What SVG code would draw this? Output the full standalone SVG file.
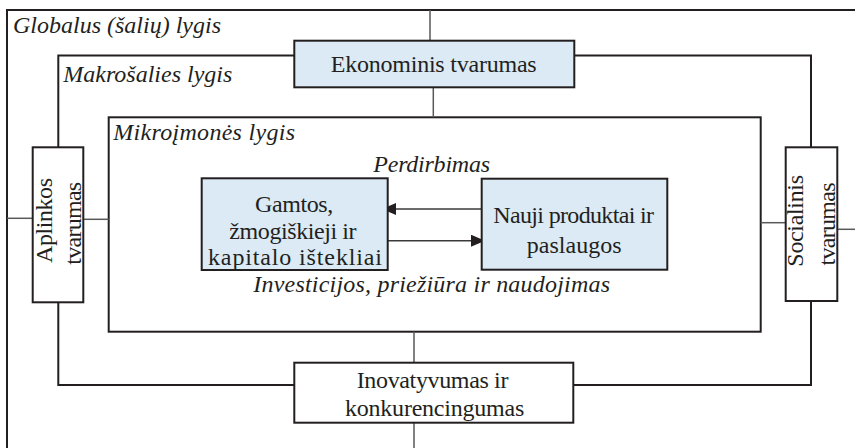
<svg xmlns="http://www.w3.org/2000/svg" width="855" height="448" viewBox="0 0 855 448">
<style>
.frame{fill:none;stroke:#231f20;stroke-width:2}
.box{stroke:#231f20;stroke-width:2}
.blue{fill:#dbeaf5}
.white{fill:#ffffff}
.conn{fill:none;stroke:#58595b;stroke-width:1.5}
.arrow{fill:none;stroke:#3a3a3a;stroke-width:1.6}
.t{font-family:'Liberation Serif','Times New Roman',serif;font-size:24px;fill:#231f20}
.it{font-style:italic}
</style>
<defs>
<marker id="ah" viewBox="0 0 14 12" refX="13" refY="6" markerWidth="14" markerHeight="12" markerUnits="userSpaceOnUse" orient="auto">
<path d="M0,0 L14,6 L0,12 Z" fill="#231f20"/>
</marker>
</defs>
<rect width="855" height="448" fill="#ffffff"/>

<g id="globalus">
<path class="frame" d="M7,460 V10 H860"/>
<text class="t it" x="13" y="33" textLength="208" lengthAdjust="spacing">Globalus (šalių) lygis</text>
</g>

<g id="makro">
<rect class="frame" x="58.3" y="55.5" width="752.7" height="329.5"/>
<text class="t it" x="63.3" y="81.7" textLength="169" lengthAdjust="spacing">Makrošalies lygis</text>
</g>

<g id="mikro">
<rect class="frame" x="108.7" y="117.3" width="652" height="214.4"/>
<text class="t it" x="113.3" y="140" textLength="181.7" lengthAdjust="spacing">Mikroįmonės lygis</text>
<text class="t it" x="373.3" y="171.7" textLength="116.7" lengthAdjust="spacing">Perdirbimas</text>
<text class="t it" x="253.3" y="291.7" textLength="356.7" lengthAdjust="spacing">Investicijos, priežiūra ir naudojimas</text>
</g>

<g id="connectors">
<line class="conn" x1="430" y1="10" x2="430" y2="40.7"/>
<line class="conn" x1="433.3" y1="87.3" x2="433.3" y2="117.3"/>
<line class="conn" x1="414" y1="331.7" x2="414" y2="362.7"/>
<line class="conn" x1="414" y1="422.7" x2="414" y2="448"/>
<line class="conn" x1="7" y1="218.3" x2="32.7" y2="218.3"/>
<line class="conn" x1="83.3" y1="219.3" x2="108.7" y2="219.3"/>
<line class="conn" x1="760.7" y1="222.7" x2="785.7" y2="222.7"/>
<line class="conn" x1="837.3" y1="229.3" x2="855" y2="229.3"/>
<line class="arrow" x1="481.7" y1="209" x2="383" y2="209" marker-end="url(#ah)"/>
<line class="arrow" x1="387.7" y1="240.7" x2="484" y2="240.7" marker-end="url(#ah)"/>
</g>

<g id="ekonominis">
<rect class="box blue" x="294.3" y="40.7" width="280" height="46.6"/>
<text class="t" x="330.7" y="72" textLength="206" lengthAdjust="spacing">Ekonominis tvarumas</text>
</g>

<g id="aplinkos">
<rect class="box white" x="32.7" y="147.3" width="50.6" height="155"/>
<text class="t" transform="translate(52,220.5) rotate(-90)" text-anchor="middle" textLength="85" lengthAdjust="spacing">Aplinkos</text>
<text class="t" transform="translate(80.5,223.3) rotate(-90)" text-anchor="middle" textLength="83" lengthAdjust="spacing">tvarumas</text>
</g>

<g id="socialinis">
<rect class="box white" x="785.7" y="147.3" width="51.6" height="153.7"/>
<text class="t" transform="translate(803.3,220.8) rotate(-90)" text-anchor="middle" textLength="91.7" lengthAdjust="spacing">Socialinis</text>
<text class="t" transform="translate(835,224) rotate(-90)" text-anchor="middle" textLength="83" lengthAdjust="spacing">tvarumas</text>
</g>

<g id="gamtos">
<rect class="box blue" x="201.7" y="178.3" width="186" height="91.7"/>
<text class="t" x="255" y="211.7" textLength="78.3" lengthAdjust="spacing">Gamtos,</text>
<text class="t" x="229.3" y="239" textLength="127.3" lengthAdjust="spacing">žmogiškieji ir</text>
<text class="t" x="208" y="265" textLength="174" lengthAdjust="spacing">kapitalo ištekliai</text>
</g>

<g id="nauji">
<rect class="box blue" x="481.7" y="178.7" width="185.6" height="91"/>
<text class="t" x="493.3" y="223" textLength="160.7" lengthAdjust="spacing">Nauji produktai ir</text>
<text class="t" x="526.7" y="253.3" textLength="95" lengthAdjust="spacing">paslaugos</text>
</g>

<g id="inovatyvumas">
<rect class="box white" x="294.3" y="362.7" width="279" height="60"/>
<text class="t" x="356.7" y="387.7" textLength="151.7" lengthAdjust="spacing">Inovatyvumas ir</text>
<text class="t" x="345" y="415.7" textLength="179.3" lengthAdjust="spacing">konkurencingumas</text>
</g>
</svg>
